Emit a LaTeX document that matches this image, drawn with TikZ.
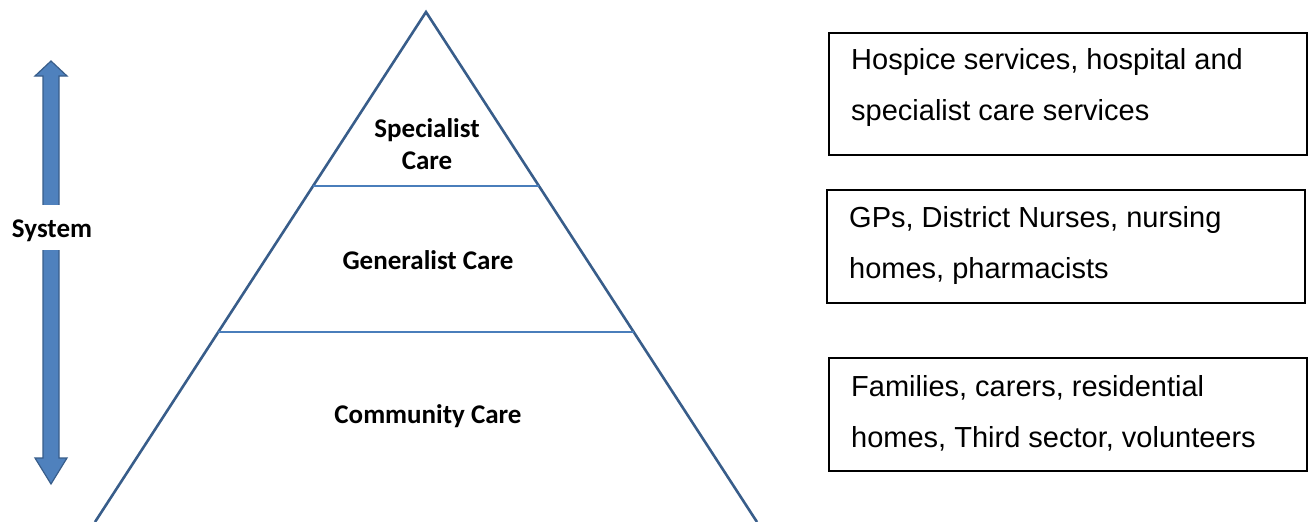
\documentclass[tikz,border=0pt]{standalone}
\usepackage{fontspec}
\setmainfont{Liberation Sans}
\newfontfamily\calibri{Carlito}
\usetikzlibrary{calc}
\definecolor{shaftblue}{HTML}{4F81BD}
\definecolor{edgeblue}{HTML}{385D8A}
\definecolor{tierline}{HTML}{4A7EBB}
\tikzset{
  tierlabel/.style={font=\calibri\bfseries\fontsize{27}{32}\selectfont, align=center, inner sep=0pt, anchor=base},
  infobox/.style={draw=black, line width=1.5pt, minimum width=478pt, inner sep=0pt},
  infotext/.style={font=\fontsize{29}{51}\selectfont, align=left, inner sep=0pt, anchor=base west},
  sysarrow/.style={fill=shaftblue, draw=edgeblue, line width=1.2pt, line join=miter},
}
\begin{document}
\begin{tikzpicture}[x=1pt,y=-1pt]
\useasboundingbox (0,0) rectangle (1312,522);

% double-headed system arrow
\draw[sysarrow] (51,61) -- (67,76) -- (59,76) -- (59,458) -- (67,458) -- (51,484)
  -- (35,458) -- (43,458) -- (43,76) -- (35,76) -- cycle;
\node[fill=white, minimum height=45pt, minimum width=84pt, inner sep=0pt] (sysgap) at (52,227.5) {};
\node[tierlabel] (system) at (52,237) {System};

% pyramid
\coordinate (apex) at (426,12);
\coordinate (bl) at (95,522);
\coordinate (br) at (757,522);
\draw[edgeblue, line width=2.6pt, line join=miter] (bl) -- (apex) -- (br);
\draw[tierline, line width=1.5pt] ($(apex)!0.3412!(bl)$) -- ($(apex)!0.3412!(br)$);
\draw[tierline, line width=1.5pt] ($(apex)!0.6275!(bl)$) -- ($(apex)!0.6275!(br)$);

% multi-line labels are placed by the baseline of their last line
\node[tierlabel] (spec) at (427,169) {Specialist\\Care};
\node[tierlabel] (gen) at (428,269) {Generalist Care};
\node[tierlabel] (comm) at (428,423) {Community Care};

% description boxes
\node[infobox, minimum height=122pt] (box1) at (1068,94) {};
\node[infotext] (txt1) at (851,120.5) {Hospice services, hospital and\\specialist care services};

\node[infobox, minimum height=113pt] (box2) at (1066,246.5) {};
\node[infotext] (txt2) at (849,278) {GPs, District Nurses, nursing\\homes, pharmacists};

\node[infobox, minimum height=113pt] (box3) at (1068,414.5) {};
\node[infotext] (txt3) at (851,447) {Families, carers, residential\\homes, Third sector, volunteers};
\end{tikzpicture}
\end{document}
